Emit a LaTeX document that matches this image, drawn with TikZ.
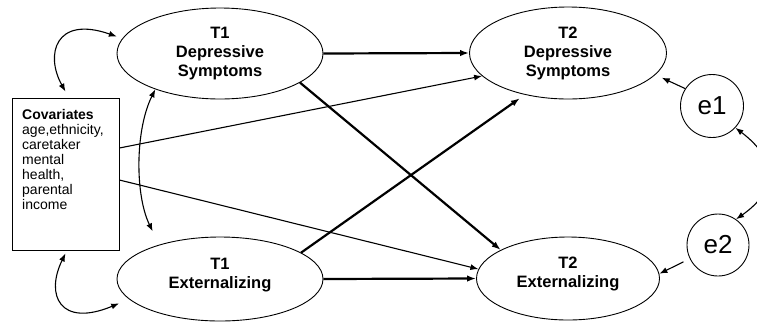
\documentclass[tikz,border=0pt]{standalone}
\usepackage{fontspec}
\setmainfont{Liberation Sans}
\usetikzlibrary{shapes.geometric,arrows.meta}
\begin{document}
\begin{tikzpicture}[x=1pt,y=-1pt,
 oval/.style={draw,ellipse,line width=0.9pt,inner sep=0pt,align=center,font=\fontsize{16.5}{19}\selectfont\bfseries},
 errc/.style={draw,circle,line width=0.9pt,inner sep=0pt,minimum size=63pt,font=\fontsize{26}{28}\selectfont},
 pthick/.style={line width=2.2pt,-{Latex[length=9pt,width=6.5pt]}},
 pthin/.style={line width=1.1pt,-{Latex[length=8pt,width=6pt]}},
 pcov/.style={line width=1.1pt,{Latex[length=8pt,width=6pt]}-{Latex[length=8pt,width=6pt]}}]
\useasboundingbox (0,0) rectangle (757,325);
\fill[white] (0,0) rectangle (757,325);

\node[oval,minimum width=206pt,minimum height=91pt] (t1d) at (220,53.5) {T1\\Depressive\\Symptoms};
\node[oval,minimum width=206pt,minimum height=84pt] (t1e) at (220,279) {T1\\Externalizing\\[-7pt]\mbox{}};
\node[oval,minimum width=197pt,minimum height=92pt] (t2d) at (568,53) {T2\\Depressive\\Symptoms};
\node[oval,minimum width=183pt,minimum height=83pt] (t2e) at (568,278.5) {T2\\Externalizing\\[-7pt]\mbox{}};
\node[errc] (e1) at (712,106) {e1};
\node[errc,minimum size=62pt] (e2) at (718,245) {e2};
\node[draw,line width=0.9pt,minimum width=107pt,minimum height=152pt,inner sep=0pt] (cov) at (65.5,174) {};
\node[anchor=north west,inner sep=0pt,align=left,font=\fontsize{14}{15}\selectfont] (covtext) at (22,109.5)
  {\textbf{Covariates}\\age,ethnicity,\\caretaker\\mental\\health,\\parental\\income};

% regression paths
\draw[pthick] (t1d.east) -- (t2d.west);
\draw[pthick] (t1e.east) -- (t2e.west);
\draw[pthin] ([yshift=26pt]cov.east) -- (t2d.195);
\draw[pthin] ([yshift=-6pt]cov.east) -- (t2e.174);
\draw[pthick] (t1d.-20) -- (t2e.157);
\draw[pthick,shorten >=6pt] (t1e.18) -- (t2d.-136);
\draw[pthin,shorten >=7pt] (e1.147) -- (t2d.-14);
\draw[pthin,shorten <=7pt] (e2.206) -- (t2e.3.5);

% covariances
\draw[pcov] (e1.-43) .. controls (778,160) and (778,190) .. (e2.55);
\draw[pcov] ([yshift=6pt]cov.north) .. controls (45,55) and (55,15) .. ([xshift=-7pt]t1d.170);
\draw[pcov] ([yshift=-3pt]cov.south) .. controls (45,295) and (60,328) .. ([xshift=-16pt]t1e.196);
\draw[pcov] (t1d.-151) .. controls (135,130) and (135,195) .. ([xshift=-15pt,yshift=11pt]t1e.145);
\end{tikzpicture}
\end{document}
